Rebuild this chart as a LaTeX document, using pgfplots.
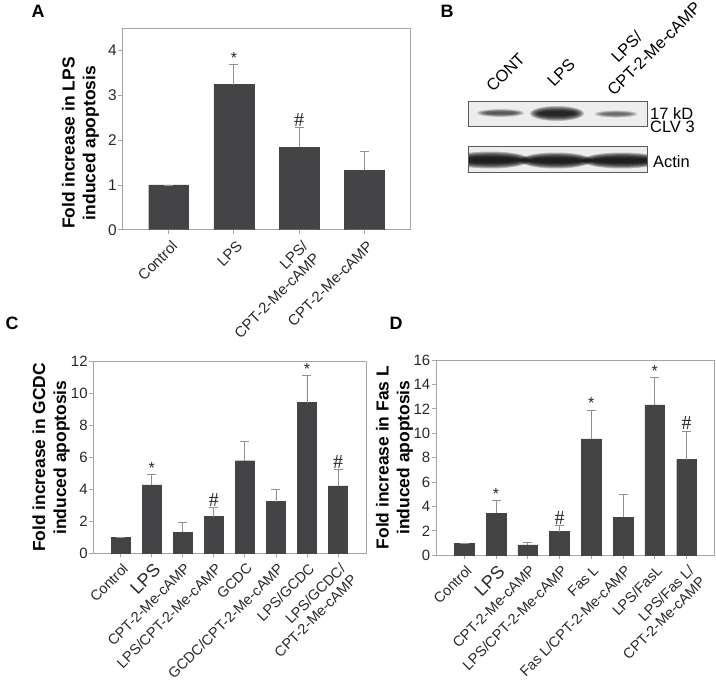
\documentclass[border=0pt]{standalone}
\usepackage{pgfplots}
\pgfplotsset{compat=1.18}
\usepackage{fontspec}
\setmainfont{Liberation Sans}
\newfontfamily\serif{Liberation Serif}

\definecolor{barfill}{RGB}{68,68,70}
\definecolor{framec}{RGB}{165,165,165}
\definecolor{errc}{RGB}{145,145,145}
\definecolor{txt}{RGB}{40,40,40}

\pgfplotsset{
  panel/.style={
    scale only axis,
    ymin=0,
    axis line style={framec, line width=0.9pt},
    tick style={framec, line width=0.8pt},
    tick align=outside,
    major tick length=4bp,
    xtick pos=bottom, ytick pos=left,
    /pgf/number format/assume math mode=true,
    yticklabel style={font=\fontsize{15.5}{17}\selectfont, text=txt, inner sep=1.5bp},
    xticklabel style={yshift=-4.5bp, xshift=2bp, rotate=45, anchor=north east, align=right,
      inner sep=1bp, font=\fontsize{15}{16.5}\selectfont, text=txt},
    ylabel style={font=\bfseries\fontsize{17.5}{21}\selectfont, align=center, anchor=center, rotate=0},
  },
  bars/.style={
    ybar, bar width=#1, fill=barfill, draw=barfill,
    error bars/.cd, y dir=plus, y explicit,
    error bar style={errc, line width=0.8pt},
    error mark options={errc, rotate=90, mark size=4.5bp, line width=0.8pt},
  },
  marks/.style={
    draw=none, mark=none, nodes near coords, point meta=explicit symbolic,
    every node near coord/.append style={anchor=south, inner sep=1bp,
      font=\fontsize{16}{17}\selectfont, text=txt},
  },
  wide/.style={
    yticklabel style={font=\fontsize{15}{17}\selectfont},
    xticklabel style={yshift=1.5bp, font=\fontsize{14.5}{16}\selectfont},
  },
}

% soft blot band: x y rx ry opacity
\newcommand\band[5]{%
  \foreach \k in {0,1,...,7}{%
    \fill[black, opacity=#5] (#1,#2) ellipse ({#3-\k*1.3} and {#4*(1-\k*0.1)});
  }}

\begin{document}
\begin{tikzpicture}
\path[use as bounding box] (0,0) rectangle (716bp,-681bp);

% panel letters
\node[font=\bfseries\fontsize{18}{19}\selectfont] at (38bp,-11bp) {A};
\node[font=\bfseries\fontsize{18}{19}\selectfont] at (447bp,-11bp) {B};
\node[font=\bfseries\fontsize{18}{19}\selectfont] at (12bp,-323bp) {C};
\node[font=\bfseries\fontsize{18}{19}\selectfont] at (396bp,-323bp) {D};

% ---------- A ----------
\begin{axis}[panel,
  at={(122.3bp,-229.7bp)}, anchor=south west,
  width=288.4bp, height=201.4bp,
  xmin=-0.71, xmax=3.71, ymax=4.5,
  ytick={0,1,2,3,4},
  xtick={0,1,2,3},
  xticklabels={Control, LPS, {LPS/\\CPT-2-Me-cAMP}, CPT-2-Me-cAMP},
  ylabel={Fold increase in LPS\\induced apoptosis},
  ylabel style={at={(axis description cs:-0.145,0.43)}},
]
\addplot[bars=0.61] table[x=x, y=y, y error=e] {
x y e
0 1.00 0
1 3.24 0.45
2 1.84 0.44
3 1.33 0.42
};
\addplot[marks] coordinates {(1,3.69) [*] (2,2.28) [{\serif\fontsize{20}{20}\selectfont\#}]};
\end{axis}

% ---------- B ----------
\begin{scope}[x=1bp, y=-1bp]
  % column labels
  \begin{scope}[font=\fontsize{16.5}{18}\selectfont]
    \node[rotate=45, anchor=base west, inner sep=0] at (493,93) {CONT};
    \node[rotate=45, anchor=base west, inner sep=0] at (554,88) {LPS};
    \node[rotate=45, anchor=base west, inner sep=0] at (618,64) {LPS/};
    \node[rotate=45, anchor=base west, inner sep=0] at (614,97) {CPT-2-Me-cAMP};
  \end{scope}
  % upper blot
  \fill[gray!14] (468.3,101) rectangle (647.3,126);
  \band{500.5}{113}{24}{4}{0.11}
  \band{557}{113.5}{27}{7.5}{0.2}
  \band{616}{114}{22}{3.6}{0.09}
  \draw[gray!70!black, line width=0.8pt] (468.3,101) rectangle (647.3,126);
  % lower blot
  \fill[gray!14] (468.3,146) rectangle (647.3,172.7);
  \begin{scope}
    \clip (468.3,146) rectangle (647.3,172.7);
    \band{490}{160}{40}{8.5}{0.22}
    \band{556}{160.5}{36}{8}{0.22}
    \band{622}{160.5}{40}{8}{0.22}
  \end{scope}
  \draw[gray!70!black, line width=0.8pt] (468.3,146) rectangle (647.3,172.7);
  \begin{scope}[font=\fontsize{16.5}{18}\selectfont]
    \node[anchor=base west, inner sep=0] at (650,119) {17 kD};
    \node[anchor=base west, inner sep=0] at (650,132) {CLV 3};
    \node[anchor=base west, inner sep=0] at (653,167) {Actin};
  \end{scope}
\end{scope}

% ---------- C ----------
\begin{axis}[panel, wide,
  at={(93.3bp,-553.3bp)}, anchor=south west,
  width=272.7bp, height=191.6bp,
  xmin=-0.88, xmax=7.9, ymax=12,
  ytick={0,2,...,12},
  xtick={0,...,7},
  xticklabels={Control, {\fontsize{18}{19}\selectfont LPS}, CPT-2-Me-cAMP, LPS/CPT-2-Me-cAMP,
    GCDC, GCDC/CPT-2-Me-cAMP, LPS/GCDC, {LPS/GCDC/\\CPT-2-Me-cAMP}},
  ylabel={Fold increase in GCDC\\induced apoptosis},
  ylabel style={at={(axis description cs:-0.155,0.5)}},
]
\addplot[bars=0.61] table[x=x, y=y, y error=e] {
x y e
0 1.00 0
1 4.28 0.67
2 1.31 0.63
3 2.30 0.58
4 5.80 1.23
5 3.24 0.77
6 9.44 1.71
7 4.22 1.04
};
\addplot[marks] coordinates {(1,4.95) [*] (3,2.88) [{\serif\fontsize{20}{20}\selectfont\#}]
  (6,11.15) [*] (7,5.26) [{\serif\fontsize{20}{20}\selectfont\#}]};
\end{axis}

% ---------- D ----------
\begin{axis}[panel, wide,
  at={(436bp,-555.3bp)}, anchor=south west,
  width=278.5bp, height=195.3bp,
  xmin=-0.89, xmax=7.88, ymax=16,
  ytick={0,2,...,16},
  xtick={0,...,7},
  xticklabels={Control, {\fontsize{18}{19}\selectfont LPS}, CPT-2-Me-cAMP, LPS/CPT-2-Me-cAMP,
    Fas L, Fas L/CPT-2-Me-cAMP, LPS/FasL, {LPS/Fas L/\\CPT-2-Me-cAMP}},
  ylabel={Fold increase in Fas L\\induced apoptosis},
  ylabel style={at={(axis description cs:-0.149,0.5)}},
]
\addplot[bars=0.62] table[x=x, y=y, y error=e] {
x y e
0 1.00 0
1 3.44 1.04
2 0.85 0.22
3 1.94 0.49
4 9.54 2.35
5 3.11 1.89
6 12.32 2.27
7 7.84 2.35
};
\addplot[marks] coordinates {(1,4.48) [*] (3,2.43) [{\serif\fontsize{20}{20}\selectfont\#}]
  (4,11.89) [*] (6,14.59) [*] (7,10.19) [{\serif\fontsize{20}{20}\selectfont\#}]};
\end{axis}
\end{tikzpicture}
\end{document}
